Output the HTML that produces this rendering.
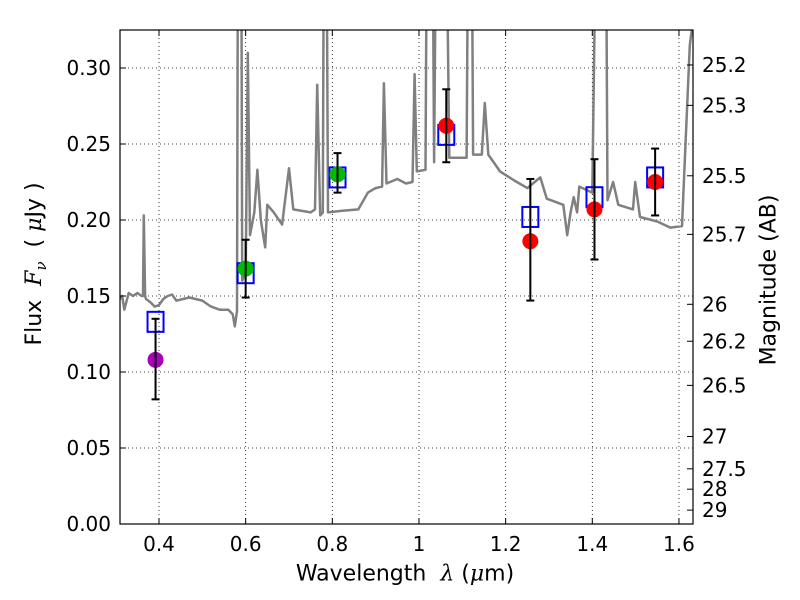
<!DOCTYPE html>
<html><head><meta charset="utf-8"><style>
body{margin:0;background:#fff}
svg{display:block;font-family:"DejaVu Sans","Liberation Sans",sans-serif}
</style></head><body>
<svg id="c" width="800" height="600" viewBox="0 0 800 600"></svg>
<script>
const xTicks=[0.4,0.6,0.8,1.0,1.2,1.4,1.6];
const xTickLabels=["0.4","0.6","0.8","1","1.2","1.4","1.6"];
const yTicks=[0,0.05,0.10,0.15,0.20,0.25,0.30];
const yTickLabels=["0.00","0.05","0.10","0.15","0.20","0.25","0.30"];
const magTicks=[25.2,25.3,25.5,25.7,26,26.2,26.5,27,27.5,28,29];
const specLam=[
0.31,0.315,0.32,0.33,0.34,0.35,0.36,0.363,0.365,0.368,
0.37,0.38,0.39,0.40,0.41,0.42,0.43,0.44,0.47,0.50,
0.52,0.54,0.56,0.57,0.575,0.58,0.584,0.588,0.592,0.600,
0.605,0.61,0.62,0.627,0.635,0.645,0.65,0.665,0.684,0.70,
0.71,0.73,0.75,0.76,0.765,0.772,0.778,0.783,0.79,0.82,
0.86,0.882,0.90,0.915,0.919,0.925,0.95,0.97,0.985,0.99,
0.995,1.015,1.022,1.027,1.035,1.045,1.055,1.07,1.11,1.118,
1.125,1.145,1.152,1.16,1.187,1.22,1.25,1.28,1.295,1.333,
1.342,1.35,1.357,1.365,1.37,1.40,1.418,1.428,1.435,1.448,
1.46,1.494,1.499,1.51,1.55,1.58,1.607,1.615,1.625,1.632];
const specFlux=[
0.148,0.150,0.141,0.152,0.150,0.152,0.150,0.150,0.203,0.150,
0.148,0.146,0.143,0.144,0.148,0.150,0.151,0.147,0.149,0.147,
0.143,0.141,0.141,0.138,0.130,0.140,0.60,0.60,0.160,0.165,
0.31,0.19,0.205,0.233,0.200,0.182,0.21,0.205,0.197,0.234,
0.207,0.206,0.205,0.207,0.289,0.203,0.205,0.60,0.205,0.206,
0.207,0.218,0.221,0.222,0.29,0.224,0.227,0.224,0.225,0.296,
0.232,0.233,0.60,0.60,0.238,0.60,0.60,0.241,0.241,0.60,
0.243,0.243,0.277,0.243,0.232,0.226,0.221,0.228,0.214,0.210,
0.190,0.205,0.215,0.205,0.222,0.218,0.60,0.60,0.213,0.225,
0.210,0.207,0.225,0.202,0.199,0.195,0.196,0.25,0.315,0.33];
const bandLam=[0.392,0.600,0.812,1.063,1.257,1.405,1.545];
const modelFlux=[0.133,0.165,0.228,0.256,0.202,0.215,0.228];
const obsFlux=[0.108,0.168,0.230,0.262,0.186,0.207,0.225];
const errLo=[0.082,0.149,0.218,0.238,0.147,0.174,0.203];
const errHi=[0.135,0.187,0.244,0.286,0.227,0.240,0.247];
const obsColors=["#aa00bb","#00bb00","#00bb00","#ff0000","#ff0000","#ff0000","#ff0000"];

const L=120,R=693,T=30,B=524;
const X=v=>159+(v-0.4)*433.3;
const Y=v=>B-v*1520;
const NS="http://www.w3.org/2000/svg";
const svg=document.getElementById('c');
function mk(t,a,p){const e=document.createElementNS(NS,t);for(const k in a)e.setAttribute(k,a[k]);(p||svg).appendChild(e);return e;}

const defs=mk('defs',{});const cp=mk('clipPath',{id:'pc'},defs);mk('rect',{x:L,y:T,width:R-L,height:B-T},cp);

const grid=mk('g',{});


xTicks.forEach(v=>mk('line',{x1:X(v),x2:X(v),y1:T,y2:B,stroke:'#000','stroke-width':0.8,'stroke-dasharray':'1,3'},grid));
yTicks.forEach(v=>mk('line',{x1:L,x2:R,y1:Y(v),y2:Y(v),stroke:'#000','stroke-width':0.8,'stroke-dasharray':'1,3'},grid));

let d='';specLam.forEach((l,i)=>{d+=(i?'L':'M')+X(l).toFixed(1)+','+Y(specFlux[i]).toFixed(1);});
const sp=mk('path',{d:d,fill:'none',stroke:'#808080','stroke-width':2.5,'clip-path':'url(#pc)','stroke-linejoin':'round'});



bandLam.forEach((l,i)=>{
 const s=mk('rect',{x:X(l)-8,y:Y(modelFlux[i])-10,width:16,height:20,fill:'none',stroke:'#0000ff','stroke-width':2});
 
 
});
bandLam.forEach((l,i)=>{
 const g=mk('g',{});
 
 
 mk('circle',{cx:X(l),cy:Y(obsFlux[i]),r:8,fill:obsColors[i]},g);
 mk('line',{x1:X(l),x2:X(l),y1:Y(errLo[i]),y2:Y(errHi[i]),stroke:'#000','stroke-width':2},g);
 mk('line',{x1:X(l)-4,x2:X(l)+4,y1:Y(errLo[i]),y2:Y(errLo[i]),stroke:'#000','stroke-width':2},g);
 mk('line',{x1:X(l)-4,x2:X(l)+4,y1:Y(errHi[i]),y2:Y(errHi[i]),stroke:'#000','stroke-width':2},g);
});

const fr=mk('rect',{x:L,y:T,width:R-L,height:B-T,fill:'none',stroke:'#000','stroke-width':1.2});



xTicks.forEach((v,i)=>{
 mk('line',{x1:X(v),x2:X(v),y1:B,y2:B-6,stroke:'#000'});
 mk('line',{x1:X(v),x2:X(v),y1:T,y2:T+6,stroke:'#000'});
 const t=mk('text',{x:X(v),y:B+27,'text-anchor':'middle','font-size':20});
 
 
 t.textContent=xTickLabels[i];
});
yTicks.forEach((v,i)=>{
 mk('line',{x1:L,x2:L+6,y1:Y(v),y2:Y(v),stroke:'#000'});
 const t=mk('text',{x:L-9,y:Y(v)+7,'text-anchor':'end','font-size':20});
 
 
 t.textContent=yTickLabels[i];
});
magTicks.forEach(m=>{
 const f=Math.pow(10,(23.9-m)/2.5);const y=Y(f);
 mk('line',{x1:R,x2:R-6,y1:y,y2:y,stroke:'#000'});
 const t=mk('text',{x:R+9,y:y+7,'text-anchor':'start','font-size':20});
 
 
 t.textContent=String(m);
});
</script>
<div style="position:absolute;left:0;top:0;width:800px;height:600px;pointer-events:none;font-family:'DejaVu Sans','Liberation Sans',sans-serif">
 <div style="position:absolute;left:405px;top:574px;font-size:22px;white-space:nowrap;transform:translate(-50%,-50%)">Wavelength&nbsp; <i style="font-family:'DejaVu Serif',serif">λ</i> (<i style="font-family:'DejaVu Serif',serif">μ</i>m)</div>
 <div style="position:absolute;left:36px;top:264px;font-size:22px;white-space:nowrap;transform:translate(-50%,-50%) rotate(-90deg)">Flux&nbsp; <i style="font-family:'DejaVu Serif',serif">F<sub style="font-size:15px">ν</sub></i>&nbsp; ( <i style="font-family:'DejaVu Serif',serif">μ</i>Jy )</div>
 <div style="position:absolute;left:769px;top:280px;font-size:22px;white-space:nowrap;transform:translate(-50%,-50%) rotate(-90deg)">Magnitude (AB)</div>
</div>
</body></html>
